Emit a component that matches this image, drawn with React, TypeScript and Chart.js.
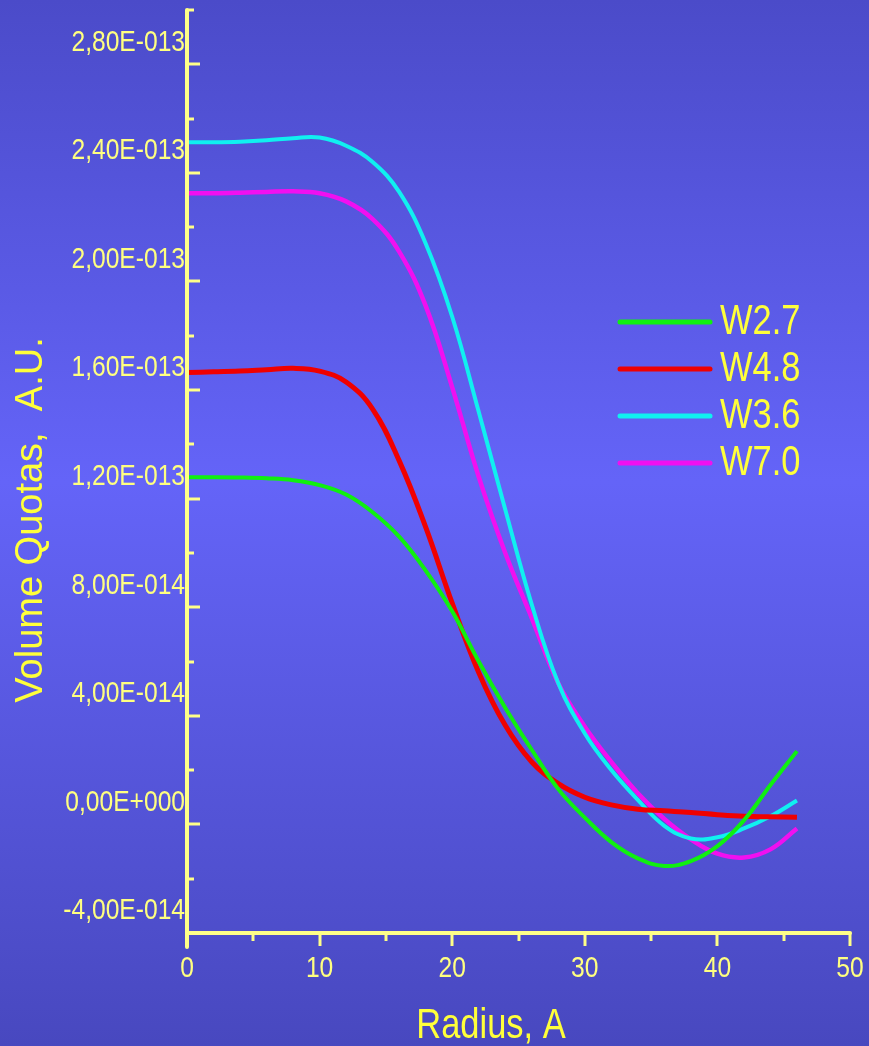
import React, { useEffect, useRef } from "react";
import { Chart, registerables } from "chart.js";

Chart.register(...registerables);

// Radius (Å) sample positions
const RADIUS = [0, 2, 4, 6, 8, 10, 12, 14, 16, 18, 20, 22, 24, 26, 28, 30, 32, 34, 36, 38, 40, 42, 44, 46];

// Volume quotas in units of 1e-14 A.U.
const W27 = [12.79, 12.79, 12.78, 12.75, 12.68, 12.5, 12.15, 11.5, 10.6, 9.35, 7.85, 6.0, 4.3, 2.75, 1.3, 0.25, -0.65, -1.25, -1.53, -1.35, -0.8, 0.15, 1.45, 2.7];
const W48 = [16.65, 16.67, 16.7, 16.75, 16.8, 16.7, 16.3, 15.3, 13.4, 10.95, 8.15, 5.6, 3.65, 2.3, 1.5, 1.0, 0.72, 0.56, 0.5, 0.44, 0.36, 0.3, 0.28, 0.26];
const W36 = [25.13, 25.13, 25.15, 25.2, 25.28, 25.3, 25.0, 24.4, 23.3, 21.4, 18.7, 15.2, 11.6, 8.1, 5.2, 3.35, 2.0, 0.9, -0.05, -0.52, -0.47, -0.15, 0.3, 0.88];
const W70 = [23.25, 23.25, 23.27, 23.3, 23.32, 23.25, 22.95, 22.3, 21.1, 19.1, 16.1, 12.8, 10.0, 7.6, 5.2, 3.6, 2.3, 1.15, 0.2, -0.55, -1.08, -1.22, -0.92, -0.15];

const SERIES = [W27, W48, W36, W70];
const SERIES_LABELS = ["W2.7", "W4.8", "W3.6", "W7.0"];
const SERIES_COLORS = ["#10f010", "#f00000", "#10f0f0", "#f010f0"];
const SERIES_WIDTHS = [4, 5, 4, 4.5];

const Y_UNIT = 1e-14;
const Y_MIN = -4;
const Y_MAX = 30;
const Y_STEP = 2;
const Y_LABEL_EVERY = 4;
const X_MIN = 0;
const X_MAX = 50;
const X_STEP = 5;
const X_LABEL_EVERY = 10;

const X_TITLE = "Radius, A";
const Y_TITLE = "Volume Quotas,  A.U.";

const AXIS_COLOR = "#ffff88";
const TEXT_COLOR = "#ffff80";
const TITLE_COLOR = "#ffff3a";
const SANS = "'Liberation Sans', Arial, sans-serif";
const CONDENSE = 0.82;

function formatSci(v: number): string {
  const val = v * Y_UNIT;
  if (Math.abs(v) < 1e-9) return "0,00E+000";
  const exp = Math.floor(Math.log10(Math.abs(val)) + 1e-9);
  const mant = val / Math.pow(10, exp);
  const e = Math.abs(exp).toString().padStart(3, "0");
  return mant.toFixed(2).replace(".", ",") + "E" + (exp < 0 ? "-" : "+") + e;
}

function narrowText(ctx: CanvasRenderingContext2D, text: string, x: number, y: number) {
  ctx.save();
  ctx.translate(x, y);
  ctx.scale(CONDENSE, 1);
  ctx.fillText(text, 0, 0);
  ctx.restore();
}

const decorPlugin = {
  id: "decor",
  beforeDraw(chart: any) {
    const { ctx, width, height } = chart;
    const g = ctx.createLinearGradient(0, 0, 0, height);
    g.addColorStop(0, "#4b4bc9");
    g.addColorStop(0.46, "#6464f8");
    g.addColorStop(1, "#4848bf");
    ctx.save();
    ctx.fillStyle = g;
    ctx.fillRect(0, 0, width, height);
    ctx.restore();
  },
  afterDraw(chart: any) {
    const { ctx } = chart;
    const xs = chart.scales.x;
    const ys = chart.scales.y;
    const left = xs.getPixelForValue(X_MIN);
    const right = xs.getPixelForValue(X_MAX);
    const top = ys.getPixelForValue(Y_MAX);
    const bottom = ys.getPixelForValue(Y_MIN);
    ctx.save();
    ctx.strokeStyle = AXIS_COLOR;
    ctx.lineCap = "round";
    // y axis
    ctx.lineWidth = 4;
    ctx.beginPath();
    ctx.moveTo(left, top);
    ctx.lineTo(left, bottom + 14);
    ctx.stroke();
    // x axis
    ctx.beginPath();
    ctx.moveTo(left, bottom);
    ctx.lineTo(right, bottom);
    ctx.stroke();
    // y ticks (inward)
    ctx.lineWidth = 3;
    ctx.lineCap = "butt";
    ys.ticks.forEach((t: any) => {
      const v = Math.round(t.value);
      if (v === Y_MIN) return;
      const p = Math.round(ys.getPixelForValue(t.value));
      const major = v % Y_LABEL_EVERY === 0;
      ctx.beginPath();
      ctx.moveTo(left, p);
      ctx.lineTo(left + (major ? 13 : 7), p);
      ctx.stroke();
    });
    // x ticks (outward)
    xs.ticks.forEach((t: any) => {
      const v = Math.round(t.value);
      if (v === X_MIN) return;
      const p = Math.round(xs.getPixelForValue(t.value));
      const major = v % X_LABEL_EVERY === 0;
      ctx.beginPath();
      ctx.moveTo(p, bottom);
      ctx.lineTo(p, bottom + (major ? 13 : 8));
      ctx.stroke();
    });
    // y tick labels (sit ~22px above their ticks, as in the original)
    ctx.fillStyle = TEXT_COLOR;
    ctx.font = `30px ${SANS}`;
    ctx.textAlign = "right";
    ctx.textBaseline = "middle";
    ys.ticks.forEach((t: any) => {
      const v = Math.round(t.value);
      if (v % Y_LABEL_EVERY !== 0) return;
      const p = ys.getPixelForValue(t.value) - 22;
      narrowText(ctx, formatSci(v), left - 2, p);
    });
    // x tick labels
    ctx.textAlign = "center";
    xs.ticks.forEach((t: any) => {
      const v = Math.round(t.value);
      if (v % X_LABEL_EVERY !== 0) return;
      narrowText(ctx, String(v), xs.getPixelForValue(t.value), bottom + 36);
    });
    // titles
    ctx.fillStyle = TITLE_COLOR;
    ctx.font = `42px ${SANS}`;
    ctx.textAlign = "center";
    ctx.textBaseline = "alphabetic";
    narrowText(ctx, X_TITLE, 491, 1038);
    ctx.save();
    ctx.translate(42, 520);
    ctx.rotate(-Math.PI / 2);
    ctx.font = `38px ${SANS}`;
    ctx.fillText(Y_TITLE, 0, 0);
    ctx.restore();
    // legend
    const ds = chart.data.datasets;
    ctx.textAlign = "left";
    ctx.textBaseline = "middle";
    ctx.font = `42px ${SANS}`;
    ds.forEach((d: any, i: number) => {
      const y = 322 + i * 47;
      ctx.strokeStyle = d.borderColor;
      ctx.lineWidth = 5;
      ctx.lineCap = "round";
      ctx.beginPath();
      ctx.moveTo(620, y);
      ctx.lineTo(710, y);
      ctx.stroke();
      ctx.fillStyle = TITLE_COLOR;
      narrowText(ctx, d.label, 720, y);
    });
    ctx.restore();
  },
};

export default function App() {
  const ref = useRef<HTMLCanvasElement | null>(null);
  useEffect(() => {
    document.body.style.margin = "0";
    const canvas = ref.current!;
    const chart = new Chart(canvas, {
      type: "line",
      data: {
        datasets: SERIES.map((s, i) => ({
          label: SERIES_LABELS[i],
          data: RADIUS.map((r, j) => ({ x: r, y: s[j] })),
          borderColor: SERIES_COLORS[i],
          backgroundColor: SERIES_COLORS[i],
          borderWidth: SERIES_WIDTHS[i],
          pointRadius: 0,
          tension: 0.4,
          fill: false,
        })),
      },
      options: {
        animation: false,
        responsive: false,
        devicePixelRatio: 1,
        layout: { padding: { left: 0, top: 10, right: 19, bottom: 0 } },
        plugins: { legend: { display: false }, tooltip: { enabled: false } },
        scales: {
          x: {
            type: "linear",
            min: X_MIN,
            max: X_MAX,
            grid: { display: false },
            border: { display: false },
            afterFit: (s: any) => { s.height = 113; },
            ticks: { display: false, stepSize: X_STEP, autoSkip: false },
          },
          y: {
            type: "linear",
            min: Y_MIN,
            max: Y_MAX,
            grid: { display: false },
            border: { display: false },
            afterFit: (s: any) => { s.width = 187; },
            ticks: { display: false, stepSize: Y_STEP, autoSkip: false },
          },
        },
      },
      plugins: [decorPlugin],
    });
    return () => chart.destroy();
  }, []);
  return (
    <div style={{ width: 869, height: 1046 }}>
      <canvas ref={ref} width={869} height={1046} style={{ display: "block" }} />
    </div>
  );
}
